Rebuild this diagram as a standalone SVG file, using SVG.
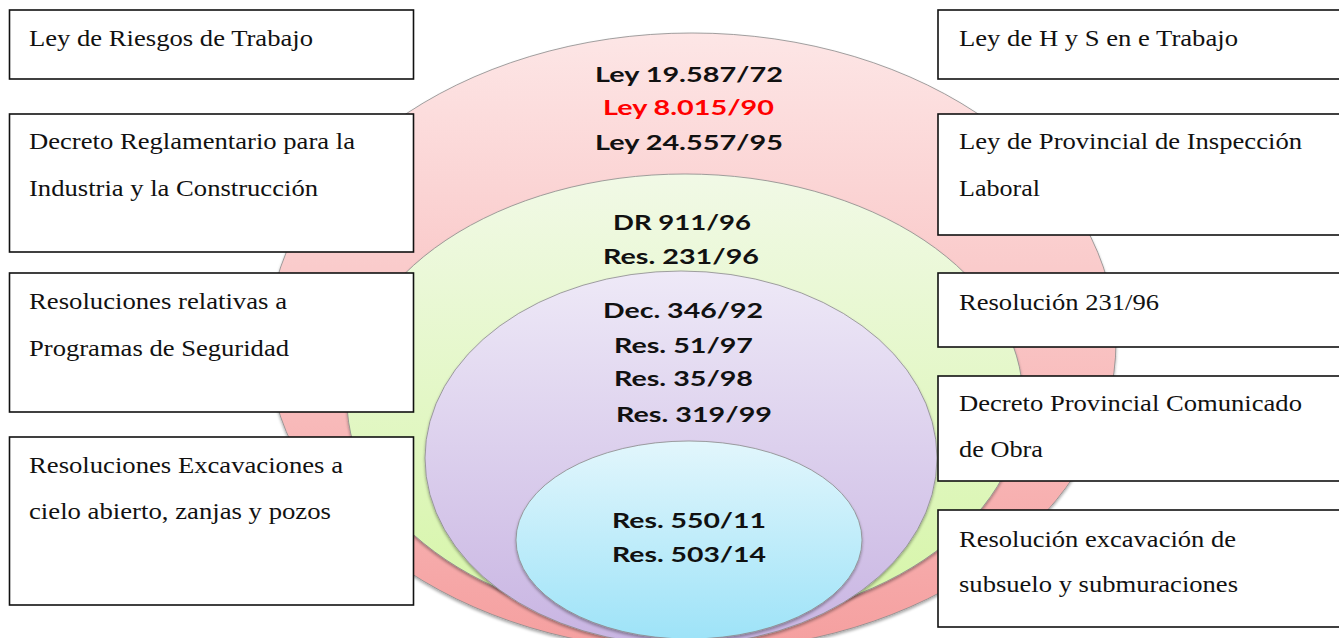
<svg xmlns="http://www.w3.org/2000/svg" width="1339" height="638" viewBox="0 0 1339 638">
<defs>
<linearGradient id="gPink" x1="0" y1="0" x2="0" y2="1"><stop offset="0" stop-color="#fde6e6"/><stop offset="1" stop-color="#f59f9f"/></linearGradient>
<linearGradient id="gGreen" x1="0" y1="0" x2="0" y2="1"><stop offset="0" stop-color="#f1f9e6"/><stop offset="1" stop-color="#d5f5a6"/></linearGradient>
<linearGradient id="gPurple" x1="0" y1="0" x2="0" y2="1"><stop offset="0" stop-color="#eee9f7"/><stop offset="1" stop-color="#c8b4e2"/></linearGradient>
<linearGradient id="gCyan" x1="0" y1="0" x2="0" y2="1"><stop offset="0" stop-color="#e2f6fc"/><stop offset="1" stop-color="#9ee3f8"/></linearGradient>
<filter id="sh" x="-5%" y="-5%" width="110%" height="110%"><feGaussianBlur in="SourceAlpha" stdDeviation="1.5"/><feOffset dx="0" dy="1.5"/><feComponentTransfer><feFuncA type="linear" slope="0.35"/></feComponentTransfer><feMerge><feMergeNode/><feMergeNode in="SourceGraphic"/></feMerge></filter>
</defs>
<style>
.ell{stroke:#8a8a8a;stroke-width:0.8;filter:url(#sh)}
.box{fill:#ffffff;stroke:#111111;stroke-width:1.6}
.bt{font-family:"Liberation Serif","Times New Roman",serif;font-size:23.5px;fill:#111111}
.ct{font-family:Lato,"Open Sans","Liberation Sans",sans-serif;font-weight:bold;font-size:21px;fill:#111111}
.red{fill:#ff0000}
</style>
<rect width="1339" height="638" fill="#ffffff"/>
<g id="rings">
<ellipse class="ell" cx="692" cy="342" rx="424" ry="309" fill="url(#gPink)"/>
<ellipse class="ell" cx="685" cy="400" rx="338" ry="226" fill="url(#gGreen)"/>
<ellipse class="ell" cx="681" cy="458" rx="256" ry="187" fill="url(#gPurple)"/>
<ellipse class="ell" cx="689" cy="540" rx="173" ry="99" fill="url(#gCyan)"/>
</g>
<g id="ring-labels">
<text class="ct" x="595" y="82" textLength="188" lengthAdjust="spacingAndGlyphs">Ley 19.587/72</text>
<text class="ct red" x="603" y="115" textLength="171" lengthAdjust="spacingAndGlyphs">Ley 8.015/90</text>
<text class="ct" x="595" y="150" textLength="188" lengthAdjust="spacingAndGlyphs">Ley 24.557/95</text>
<text class="ct" x="613" y="230" textLength="138" lengthAdjust="spacingAndGlyphs">DR 911/96</text>
<text class="ct" x="603" y="264" textLength="156" lengthAdjust="spacingAndGlyphs">Res. 231/96</text>
<text class="ct" x="603" y="318" textLength="160" lengthAdjust="spacingAndGlyphs">Dec. 346/92</text>
<text class="ct" x="614" y="353" textLength="139" lengthAdjust="spacingAndGlyphs">Res. 51/97</text>
<text class="ct" x="614" y="386" textLength="139" lengthAdjust="spacingAndGlyphs">Res. 35/98</text>
<text class="ct" x="616" y="422" textLength="156" lengthAdjust="spacingAndGlyphs">Res. 319/99</text>
<text class="ct" x="612" y="528" textLength="154" lengthAdjust="spacingAndGlyphs">Res. 550/11</text>
<text class="ct" x="612" y="562" textLength="154" lengthAdjust="spacingAndGlyphs">Res. 503/14</text>
</g>
<g id="connectors"></g>
<g id="box-l1"><rect class="box" x="9.5" y="10" width="404" height="69"/><text class="bt" x="29" y="46" textLength="284" lengthAdjust="spacingAndGlyphs">Ley de Riesgos de Trabajo</text></g>
<g id="box-l2"><rect class="box" x="9.5" y="114" width="404" height="138"/><text class="bt" x="29" y="149" textLength="326" lengthAdjust="spacingAndGlyphs">Decreto Reglamentario para la</text><text class="bt" x="29" y="196" textLength="289" lengthAdjust="spacingAndGlyphs">Industria y la Construcción</text></g>
<g id="box-l3"><rect class="box" x="9.5" y="273" width="404" height="139"/><text class="bt" x="29" y="309" textLength="258" lengthAdjust="spacingAndGlyphs">Resoluciones relativas a</text><text class="bt" x="29" y="356" textLength="260" lengthAdjust="spacingAndGlyphs">Programas de Seguridad</text></g>
<g id="box-l4"><rect class="box" x="9.5" y="437" width="404" height="168"/><text class="bt" x="29" y="473" textLength="314" lengthAdjust="spacingAndGlyphs">Resoluciones Excavaciones a</text><text class="bt" x="29" y="519" textLength="302" lengthAdjust="spacingAndGlyphs">cielo abierto, zanjas y pozos</text></g>
<g id="box-r1"><rect class="box" x="938" y="10" width="410" height="69"/><text class="bt" x="959" y="46" textLength="279" lengthAdjust="spacingAndGlyphs">Ley de H y S en e Trabajo</text></g>
<g id="box-r2"><rect class="box" x="938" y="114" width="410" height="121"/><text class="bt" x="959" y="149" textLength="343" lengthAdjust="spacingAndGlyphs">Ley de Provincial de Inspección</text><text class="bt" x="959" y="196" textLength="81" lengthAdjust="spacingAndGlyphs">Laboral</text></g>
<g id="box-r3"><rect class="box" x="938" y="273" width="410" height="74"/><text class="bt" x="959" y="310" textLength="200" lengthAdjust="spacingAndGlyphs">Resolución 231/96</text></g>
<g id="box-r4"><rect class="box" x="938" y="376" width="410" height="105"/><text class="bt" x="959" y="411" textLength="343" lengthAdjust="spacingAndGlyphs">Decreto Provincial Comunicado</text><text class="bt" x="959" y="457" textLength="84" lengthAdjust="spacingAndGlyphs">de Obra</text></g>
<g id="box-r5"><rect class="box" x="938" y="510" width="410" height="117"/><text class="bt" x="959" y="547" textLength="277" lengthAdjust="spacingAndGlyphs">Resolución excavación de</text><text class="bt" x="959" y="592" textLength="279" lengthAdjust="spacingAndGlyphs">subsuelo y submuraciones</text></g>
</svg>
